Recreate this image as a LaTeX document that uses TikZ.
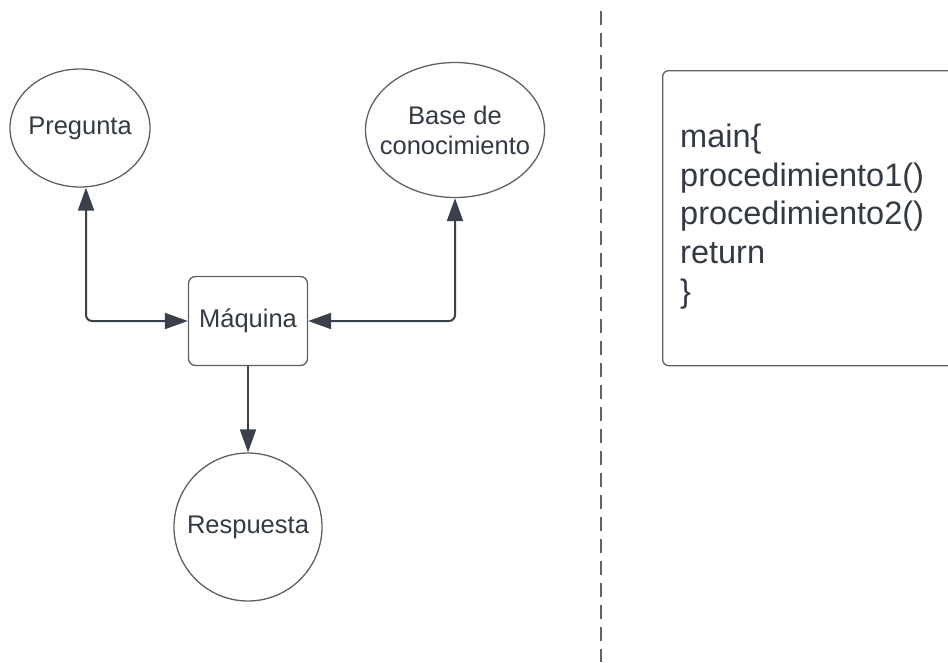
\documentclass[tikz,border=0pt]{standalone}
\usepackage{fontspec}
\setmainfont{Liberation Sans}
\usetikzlibrary{arrows.meta,shapes.geometric}
\definecolor{ink}{HTML}{333A44}
\definecolor{edgec}{HTML}{3A414B}
\definecolor{outl}{HTML}{5C6168}
\definecolor{dashc}{HTML}{5F6368}
\begin{document}
\begin{tikzpicture}[x=1pt,y=-1pt,
  lbl/.style={font=\fontsize{25.5}{30}\selectfont, text=ink, align=center, inner sep=0pt},
  oval/.style={lbl, ellipse, draw=outl, line width=1.3pt, inner xsep=-20pt},
  roundbox/.style={lbl, rectangle, rounded corners=7pt, draw=outl, line width=1.3pt},
  disc/.style={lbl, circle, draw=outl, line width=1.3pt},
  conn/.style={draw=edgec, line width=2pt, rounded corners=6pt},
  tip/.tip={Triangle[length=23pt, width=16pt, color=edgec]},
  divider/.style={draw=dashc, line width=1.4pt, dash pattern=on 14pt off 8pt},
  codebox/.style={rectangle, rounded corners=6pt, draw=outl, line width=1.3pt},
  codetext/.style={font=\fontsize{32.5}{38.75}\selectfont, text=ink, align=left, inner sep=0pt}
]
\useasboundingbox (0,0) rectangle (948,662);

% nodes
\node[oval, minimum width=140pt, minimum height=118pt] (preg) at (80,128) {Pregunta};
\node[oval, minimum width=179pt, minimum height=135pt] (base) at (455,130) {Base de\\conocimiento};
\node[roundbox, minimum width=119pt, minimum height=89pt] (maq) at (248,321) {Máquina};
\node[disc, minimum size=148pt] (resp) at (248,527) {Respuesta};

% connectors
\draw[conn, tip-tip] ([xshift=6pt]preg.south) |- (maq.west);
\draw[conn, tip-tip] (base.south) |- (maq.east);
\draw[conn, -tip] (maq.south) -- (resp.north);

% divider
\coordinate (divtop) at (601,11);
\coordinate (divbot) at (601,662);
\draw[divider] (divtop) -- (divbot);

% code box
\node[codebox, minimum width=298pt, minimum height=295pt, anchor=north west] (code) at (662,70) {};
\node[codetext, anchor=north west] (codetxt) at (680,123.5)
  {main\{\\procedimiento1()\\procedimiento2()\\return\\\}};
\end{tikzpicture}
\end{document}
